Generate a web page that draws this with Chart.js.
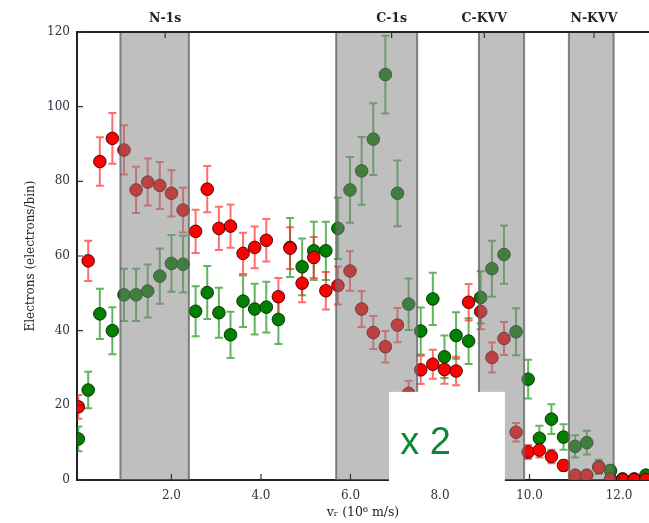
<!DOCTYPE html>
<html><head><meta charset="utf-8">
<script src="https://cdn.jsdelivr.net/npm/chart.js@4"></script>
<style>html,body{margin:0;padding:0;background:#fff;overflow:hidden;} canvas{display:block;}</style>
</head><body>
<canvas id="c" width="649" height="523"></canvas>
<script>
// velocity bins (10^6 m/s)
const vr = [-0.08,0.14,0.40,0.68,0.94,1.21,1.47,1.74,2.00,2.26,2.54,2.80,3.06,3.32,3.60,3.86,4.12,4.39,4.65,4.92,5.18,5.45,5.72,5.99,6.25,6.51,6.78,7.05,7.30,7.57,7.84,8.10,8.36,8.64,8.91,9.16,9.43,9.70,9.97,10.22,10.49,10.76,11.02,11.28,11.55,11.81,12.08,12.34,12.60];
// red series (electrons/bin)
const redCounts = [19.6,58.7,85.3,91.5,88.4,77.7,79.8,78.9,76.8,72.3,66.6,77.9,67.4,68.0,60.7,62.3,64.2,49.1,62.1,52.7,59.6,50.7,52.1,56.0,45.8,39.5,35.7,41.5,23.2,29.5,31.0,29.6,29.2,47.6,45.1,32.8,37.9,12.8,7.5,8.0,6.3,3.9,1.3,1.3,3.4,0.2,0.1,0.1,0.1];
const redErr = [3.2,5.4,6.5,6.8,6.6,6.2,6.3,6.3,6.2,6.0,5.8,6.2,5.8,5.8,5.5,5.6,5.7,5.0,5.6,5.1,5.5,5.0,5.1,5.3,4.8,4.4,4.2,4.6,3.4,3.8,3.9,3.8,3.8,4.9,4.7,4.0,4.4,2.5,1.9,2.0,1.8,1.4,0.8,0.8,1.3,0.3,0.2,0.2,0.2];
// green series (electrons/bin)
const greenCounts = [11.0,24.1,44.5,40.0,49.6,49.6,50.6,54.6,58.0,57.8,45.2,50.2,44.8,38.9,47.9,45.8,46.3,43.0,62.3,57.1,61.4,61.4,67.4,77.7,82.8,91.3,108.6,76.8,47.1,39.9,48.5,33.0,38.7,37.2,48.9,56.6,60.4,39.7,27.0,11.2,16.3,11.5,9.0,10.0,3.5,2.5,0.3,0.3,1.3];
const greenErr = [3.3,4.9,6.7,6.3,7.0,7.0,7.1,7.4,7.6,7.6,6.7,7.1,6.7,6.2,6.9,6.8,6.8,6.6,7.9,7.6,7.8,7.8,8.2,8.8,9.1,9.6,10.4,8.8,6.9,6.3,7.0,5.7,6.2,6.1,7.0,7.5,7.8,6.3,5.2,3.3,4.0,3.4,3.0,3.2,1.9,1.6,0.5,0.5,1.1];
// tick values
const xTicks = [2,4,6,8,10,12];
const yTicks = [0,20,40,60,80,100,120];
// shaded regions
const bandNames = ['N-1s','C-1s','C-KVV','N-KVV'];
const bandStart = [0.86,5.68,8.87,10.88];
const bandEnd = [2.39,7.49,9.88,11.88];
const bandLabelPos = [1.86,6.92,8.99,11.44];
// inset note
const noteText = 'x 2';
const noteBoxX = [6.86,9.45];
const noteBoxY = [-1.2,23.6];
const noteAnchor = [7.11,7.0];

const SERIF = '"DejaVu Serif", "Liberation Serif", serif';

const errorBars = {
  id:'errorBars',
  beforeDatasetsDraw(chart){
    const {ctx, chartArea:a, scales:{x,y}} = chart;
    ctx.save();
    ctx.beginPath(); ctx.rect(a.left,a.top,a.right-a.left,a.bottom-a.top); ctx.clip();
    const draw=(vals,errs,color)=>{
      ctx.strokeStyle=color; ctx.lineWidth=2;
      vals.forEach((v,i)=>{
        const px=x.getPixelForValue(vr[i]);
        const y1=y.getPixelForValue(v-errs[i]), y2=y.getPixelForValue(v+errs[i]);
        ctx.beginPath();
        ctx.moveTo(px,y1); ctx.lineTo(px,y2);
        ctx.moveTo(px-4,y1); ctx.lineTo(px+4,y1);
        ctx.moveTo(px-4,y2); ctx.lineTo(px+4,y2);
        ctx.stroke();
      });
    };
    draw(greenCounts, greenErr, 'rgba(0,135,0,0.62)');
    draw(redCounts, redErr, 'rgba(255,20,20,0.62)');
    ctx.restore();
  }
};

const bands = {
  id:'bands',
  afterDatasetsDraw(chart){
    const {ctx, chartArea:a, scales:{x}} = chart;
    ctx.save();
    bandStart.forEach((s,i)=>{
      const x1=x.getPixelForValue(s), x2=x.getPixelForValue(bandEnd[i]);
      ctx.fillStyle='rgba(128,128,128,0.5)';
      ctx.fillRect(x1,a.top,x2-x1,a.bottom-a.top);
      ctx.strokeStyle='rgba(95,95,95,0.75)'; ctx.lineWidth=2;
      ctx.beginPath();
      ctx.moveTo(x1,a.top); ctx.lineTo(x1,a.bottom);
      ctx.moveTo(x2,a.top); ctx.lineTo(x2,a.bottom);
      ctx.stroke();
    });
    ctx.restore();
  }
};

const frame = {
  id:'frame',
  afterDraw(chart){
    const {ctx, chartArea:a, scales:{x,y}} = chart;
    ctx.save();
    // top axis line
    ctx.strokeStyle='#222'; ctx.lineWidth=2;
    ctx.beginPath(); ctx.moveTo(a.left-1,a.top); ctx.lineTo(a.right,a.top); ctx.stroke();
    // inward ticks
    ctx.lineWidth=1.2; ctx.strokeStyle='#333';
    ctx.beginPath();
    yTicks.forEach(v=>{const py=y.getPixelForValue(v); ctx.moveTo(a.left,py); ctx.lineTo(a.left+6,py);});
    xTicks.forEach(v=>{const px=x.getPixelForValue(v); ctx.moveTo(px,a.bottom); ctx.lineTo(px,a.bottom-6);});
    bandLabelPos.forEach(v=>{const px=x.getPixelForValue(v); ctx.moveTo(px,a.top); ctx.lineTo(px,a.top+6);});
    ctx.stroke();
    // top labels
    ctx.fillStyle='#222';
    ctx.font='bold 12.5px '+SERIF;
    ctx.textAlign='center'; ctx.textBaseline='middle';
    bandNames.forEach((n,i)=>ctx.fillText(n, x.getPixelForValue(bandLabelPos[i]), 19));
    // inset note box
    const bx1=x.getPixelForValue(noteBoxX[0]), bx2=x.getPixelForValue(noteBoxX[1]);
    const by1=y.getPixelForValue(noteBoxY[1]), by2=y.getPixelForValue(noteBoxY[0]);
    ctx.fillStyle='#fff';
    ctx.fillRect(bx1,by1,bx2-bx1,by2-by1);
    ctx.fillStyle='#0a8a34';
    ctx.font='38px "Liberation Sans", Arial, sans-serif';
    ctx.textAlign='left'; ctx.textBaseline='alphabetic';
    ctx.fillText(noteText, x.getPixelForValue(noteAnchor[0]), y.getPixelForValue(noteAnchor[1]));
    ctx.restore();
  }
};

new Chart(document.getElementById('c'), {
  type:'scatter',
  data:{
    datasets:[
      { label:'red', data: vr.map((v,i)=>({x:v,y:redCounts[i]})),
        pointRadius:6.3, pointHoverRadius:6.3, pointBackgroundColor:'#ff0000',
        pointBorderColor:'rgba(50,0,0,0.85)', pointBorderWidth:1, clip:0 },
      { label:'green', data: vr.map((v,i)=>({x:v,y:greenCounts[i]})),
        pointRadius:6.3, pointHoverRadius:6.3, pointBackgroundColor:'#007f00',
        pointBorderColor:'rgba(0,35,0,0.85)', pointBorderWidth:1, clip:0 }
    ]
  },
  options:{
    responsive:false, animation:false, devicePixelRatio:1,
    layout:{autoPadding:false, padding:{top:32,right:0,left:0,bottom:0}},
    plugins:{legend:{display:false}, tooltip:{enabled:false}},
    scales:{
      x:{ type:'linear', min:-0.11, max:12.67,
        afterFit(s){ s.height=43; s.paddingLeft=0; s.paddingRight=0; },
        afterBuildTicks(s){ s.ticks = xTicks.map(v=>({value:v})); },
        grid:{drawOnChartArea:false, drawTicks:false},
        border:{display:true, color:'#222', width:2},
        ticks:{ padding:9, color:'#2c3344', font:{family:SERIF, size:12}, callback:v=>v.toFixed(1), maxRotation:0, autoSkip:false },
        title:{ display:true, text:'vᵣ (10⁶ m/s)', color:'#222', font:{family:SERIF, size:12.5}, padding:{top:0,bottom:3} }
      },
      y:{ min:0, max:120,
        afterFit(s){ s.width=77; s.paddingTop=0; s.paddingBottom=0; },
        afterBuildTicks(s){ s.ticks = yTicks.map(v=>({value:v})); },
        grid:{drawOnChartArea:false, drawTicks:false},
        border:{display:true, color:'#222', width:2},
        ticks:{ padding:7, color:'#2c3344', font:{family:SERIF, size:12} },
        title:{ display:true, text:'Electrons (electrons/bin)', color:'#222', font:{family:SERIF, size:12}, padding:{top:24,bottom:0} }
      }
    }
  },
  plugins:[errorBars, bands, frame]
});
</script>
</body></html>
